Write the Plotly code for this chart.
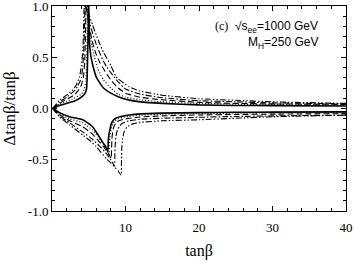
import plotly.graph_objects as go

# ---- data ----
# upper branches (positive errors)
t_solid_up = [0.1, 1, 2, 3, 4, 4.5, 4.7, 4.8, 4.9, 5.0, 5.05, 5.1, 5.2, 5.4, 5.7, 6, 6.5, 7, 8, 9, 10, 12, 15, 20, 25, 30, 40]
v_solid_up = [0, 0.03, 0.05, 0.07, 0.11, 0.15, 0.19, 0.35, 0.7, 1.0, 0.8, 0.65, 0.56, 0.47, 0.38, 0.31, 0.25, 0.2, 0.15, 0.115, 0.09, 0.065, 0.05, 0.035, 0.03, 0.028, 0.025]

t_dot_up = [0.1, 1, 2, 3, 4, 4.4, 4.6, 4.7, 4.8, 4.85, 4.95, 5.1, 5.4, 5.8, 6.2, 6.6, 7, 8, 9, 10, 12, 15, 20, 25, 30, 40]
v_dot_up = [0, 0.04, 0.07, 0.1, 0.14, 0.19, 0.26, 0.4, 0.75, 1.0, 0.9, 0.78, 0.62, 0.5, 0.4, 0.33, 0.28, 0.2, 0.14, 0.11, 0.085, 0.065, 0.05, 0.042, 0.038, 0.033]

t_dash_up = [0.1, 1, 2, 3, 3.5, 4, 4.3, 4.45, 4.55, 4.65, 4.75, 5.0, 5.5, 6, 6.5, 6.9, 7.5, 8, 9, 10, 12, 15, 20, 25, 30, 40]
v_dash_up = [0, 0.05, 0.09, 0.13, 0.17, 0.23, 0.32, 0.45, 0.7, 1.0, 0.95, 0.82, 0.65, 0.53, 0.45, 0.4, 0.33, 0.28, 0.2, 0.15, 0.11, 0.085, 0.06, 0.05, 0.045, 0.04]

t_dd_up = [0.1, 1, 2, 3, 3.5, 4, 4.2, 4.35, 4.45, 4.5, 4.7, 5, 5.5, 6, 6.5, 7, 7.4, 8, 9, 10, 12, 15, 20, 25, 30, 40]
v_dd_up = [0, 0.06, 0.11, 0.17, 0.22, 0.3, 0.42, 0.62, 0.85, 1.0, 0.97, 0.88, 0.74, 0.63, 0.54, 0.46, 0.41, 0.35, 0.26, 0.19, 0.14, 0.105, 0.076, 0.065, 0.055, 0.045]

t_ddd_up = [0.1, 1, 2, 2.8, 3.3, 3.75, 4.0, 4.2, 4.3, 4.4, 4.6, 5, 5.5, 6, 6.5, 7, 8, 8.7, 9, 10.5, 12, 15, 20, 25, 30, 40]
v_ddd_up = [0, 0.08, 0.13, 0.18, 0.23, 0.31, 0.42, 0.57, 0.8, 1.0, 0.98, 0.92, 0.82, 0.72, 0.63, 0.55, 0.42, 0.31, 0.29, 0.21, 0.17, 0.13, 0.095, 0.08, 0.065, 0.05]

# lower branches (negative errors)
t_solid_lo = [0.1, 1, 2.4, 4.2, 5.55, 6.2, 6.9, 7.3, 7.6, 7.65, 7.75, 7.9, 8.05, 8.4, 8.8, 9.5, 10.5, 12, 15, 20, 25, 30, 40]
v_solid_lo = [0, -0.04, -0.08, -0.11, -0.18, -0.25, -0.33, -0.37, -0.42, -0.33, -0.25, -0.2, -0.15, -0.11, -0.09, -0.075, -0.063, -0.052, -0.045, -0.04, -0.037, -0.035, -0.033]

t_dot_lo = [0.1, 1, 2.4, 4.2, 5.5, 6.3, 7, 7.4, 7.75, 7.8, 7.9, 8.05, 8.25, 8.6, 9, 9.7, 10.5, 12, 15, 20, 25, 30, 40]
v_dot_lo = [0, -0.05, -0.1, -0.14, -0.21, -0.28, -0.35, -0.4, -0.45, -0.36, -0.27, -0.2, -0.15, -0.12, -0.1, -0.085, -0.077, -0.065, -0.057, -0.05, -0.046, -0.043, -0.04]

t_dash_lo = [0.1, 1, 2.4, 4.2, 5.5, 6.5, 7.2, 7.7, 8.05, 8.1, 8.15, 8.25, 8.4, 8.7, 9.1, 9.8, 10.5, 12, 15, 20, 25, 30, 40]
v_dash_lo = [0, -0.06, -0.12, -0.18, -0.25, -0.33, -0.39, -0.44, -0.49, -0.4, -0.3, -0.23, -0.18, -0.14, -0.12, -0.105, -0.095, -0.083, -0.072, -0.063, -0.058, -0.055, -0.05]

t_dd_lo = [0.1, 1, 2.4, 4.2, 5.5, 6.5, 7.3, 8, 8.5, 8.55, 8.6, 8.7, 8.9, 9.2, 9.7, 10.5, 12, 15, 20, 25, 30, 40]
v_dd_lo = [0, -0.07, -0.14, -0.23, -0.3, -0.37, -0.43, -0.5, -0.56, -0.45, -0.35, -0.27, -0.21, -0.17, -0.14, -0.12, -0.105, -0.095, -0.086, -0.078, -0.072, -0.065]

t_ddd_lo = [0.1, 1, 2.4, 4.2, 5.1, 6, 7.4, 8, 8.5, 9, 9.4, 9.45, 9.5, 9.6, 9.8, 10.2, 11, 12, 15, 20, 25, 30, 40]
v_ddd_lo = [0, -0.08, -0.16, -0.26, -0.31, -0.37, -0.49, -0.53, -0.57, -0.61, -0.65, -0.5, -0.38, -0.3, -0.23, -0.18, -0.15, -0.135, -0.12, -0.11, -0.095, -0.08, -0.065]

x_tickvals = [0, 10, 20, 30, 40]
x_ticktext = ["", "10", "20", "30", "40"]
y_tickvals = [-1.0, -0.5, 0.0, 0.5, 1.0]
y_ticktext = ["-1.0", "-0.5", "0.0", "0.5", "1.0"]

styles = {
    "solid": dict(dash="solid", width=1.6),
    "dot": dict(dash="1px,2px", width=1.2),
    "dash": dict(dash="6px,3px", width=1.1),
    "dd": dict(dash="6px,2px,1.5px,2px", width=1.1),
    "ddd": dict(dash="6px,2px,1.5px,2px,1.5px,2px", width=1.1),
}

series = [
    ("solid", t_solid_up, v_solid_up), ("solid", t_solid_lo, v_solid_lo),
    ("dot", t_dot_up, v_dot_up), ("dot", t_dot_lo, v_dot_lo),
    ("dash", t_dash_up, v_dash_up), ("dash", t_dash_lo, v_dash_lo),
    ("dd", t_dd_up, v_dd_up), ("dd", t_dd_lo, v_dd_lo),
    ("ddd", t_ddd_up, v_ddd_up), ("ddd", t_ddd_lo, v_ddd_lo),
]

fig = go.Figure()
for key, t, v in series:
    st = styles[key]
    fig.add_trace(go.Scatter(
        x=t, y=v, mode="lines", showlegend=False, hoverinfo="skip",
        line=dict(color="black", width=st["width"], dash=st["dash"], shape="spline", smoothing=0.4),
        cliponaxis=True,
    ))

serif = "Liberation Serif"
sans = "Liberation Sans"

fig.update_layout(
    width=354, height=263,
    margin=dict(l=52, r=8, t=6, b=52, autoexpand=False),
    paper_bgcolor="white", plot_bgcolor="white",
    font=dict(family=serif, size=13, color="black"),
    xaxis=dict(
        range=[0, 40], tickvals=x_tickvals, ticktext=x_ticktext,
        ticks="inside", ticklen=5, tickwidth=1, tickcolor="black",
        showline=True, linecolor="black", linewidth=1, mirror="allticks",
        showgrid=False, zeroline=False, automargin=False,
        ticklabeloverflow="allow", ticklabelstandoff=4,
        minor=dict(dtick=2, tick0=0, ticks="inside", ticklen=3, tickcolor="black", showgrid=False),
        tickfont=dict(family=serif, size=13),
        title=dict(text="tanβ", font=dict(family=serif, size=16), standoff=11),
    ),
    yaxis=dict(
        range=[-1.0, 1.0], tickvals=y_tickvals, ticktext=y_ticktext,
        ticks="inside", ticklen=5, tickwidth=1, tickcolor="black",
        showline=True, linecolor="black", linewidth=1, mirror="allticks",
        showgrid=False, zeroline=False, automargin=False,
        ticklabeloverflow="allow",
        minor=dict(dtick=0.1, tick0=0, ticks="inside", ticklen=3, tickcolor="black", showgrid=False),
        tickfont=dict(family=serif, size=13),
        title=dict(text="Δtanβ/tanβ", font=dict(family=serif, size=17), standoff=9),
    ),
    annotations=[
        dict(x=0.912, y=0.898, xref="paper", yref="paper", xanchor="right", yanchor="middle",
             showarrow=False, align="left",
             text="<span style='font-family:Liberation Serif'>(c)</span>  √s<sub>ee</sub>=1000 GeV",
             font=dict(family=sans, size=12)),
        dict(x=0.912, y=0.82, xref="paper", yref="paper", xanchor="right", yanchor="middle",
             showarrow=False, align="left",
             text="M<sub>H</sub>=250 GeV",
             font=dict(family=sans, size=12)),
    ],
)

fig.write_html("out.html", config={"displayModeBar": False},
               post_script="document.body.style.margin='0';document.body.style.padding='0';")
